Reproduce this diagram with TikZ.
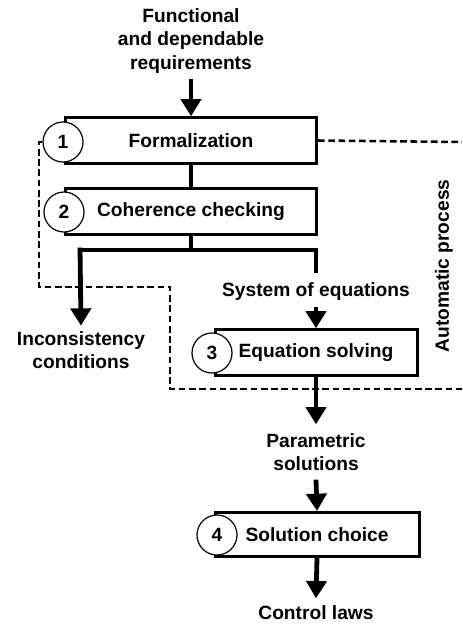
\documentclass[tikz,border=0pt]{standalone}
\usepackage{fontspec}
\setmainfont{Liberation Sans}
\usetikzlibrary{arrows.meta}
\begin{document}
\begin{tikzpicture}[x=0.75pt,y=-0.75pt,
  txt/.style={font=\fontsize{14.4}{17.5}\selectfont\bfseries, align=center, inner sep=4pt},
  boxnode/.style={draw, line width=2.25pt, fill=white, minimum height=34pt, font=\fontsize{14.4}{17.5}\selectfont\bfseries, inner sep=0pt},
  numc/.style={circle, draw, line width=0.9pt, fill=white, minimum size=30pt, inner sep=0pt, font=\fontsize{14.4}{17.5}\selectfont\bfseries},
  conn/.style={line width=3.6pt},
  arr/.style={line width=3.6pt, -{Triangle[width=15pt,length=13pt]}},
  dsh/.style={line width=1.9pt, dash pattern=on 5pt off 2.7pt}
]
\useasboundingbox (0,0) rectangle (462,626);

% text nodes
\node[txt] (req) at (191,41) {Functional\\and dependable\\requirements};
\node[txt] (sys) at (316,292) {System of equations};
\node[txt] (inc) at (81,350) {Inconsistency\\conditions};
\node[txt, inner ysep=6.5pt] (par) at (316,452) {Parametric\\solutions};
\node[txt, inner ysep=5.5pt] (ctl) at (316,613) {Control laws};
\node[txt, rotate=90] (auto) at (444,266) {Automatic process};

% coordinates
\coordinate (j) at (191,250);
\coordinate (jl) at (80,250);
\coordinate (jr) at (316,250);
\coordinate (jre) at (316,273);
\coordinate (d0) at (39,142);
\coordinate (d1) at (39,287);
\coordinate (d2) at (170,287);
\coordinate (d3) at (170,389);
\coordinate (d4) at (462,389);
\coordinate (d5) at (462,142);

% boxes
\node[boxnode, minimum width=188.25pt] (b1) at (191,140.5) {Formalization};
\node[boxnode, minimum width=188.25pt] (b2) at (191,211.5) {Coherence checking};
\node[boxnode, minimum width=151.5pt] (b3) at (316,352.5) {Equation solving};
\node[boxnode, minimum width=153pt, minimum height=33pt] (b4) at (317,534.5) {Solution choice};

% circles
\node[numc] (c1) at (63,142) {1};
\node[numc] (c2) at (64,212) {2};
\node[numc] (c3) at (212,353) {3};
\node[numc] (c4) at (217,535) {4};

% dashed boundary
\draw[dsh] (c1.west) -- (d0) -- (d1) -- (d2) -- (d3) -- (d4);
\draw[dsh] (b1.east) -- (d5);

% connectors
\draw[arr] (req.south) -- (b1.north);
\draw[conn] (b1.south) -- (b2.north);
\draw[conn] (b2.south) -- (j);
\draw[conn] ([xshift=-1.8pt]jl) -- ([xshift=1.8pt]jr);
\draw[arr] ([yshift=1.8pt]jl) -- (inc.north);
\draw[conn] ([yshift=1.8pt]jr) -- (jre);
\draw[arr] (sys.south) -- (b3.north);
\draw[arr] (b3.south) -- (par.north);
\draw[arr] (par.south) -- (b4.north);
\draw[arr] (b4.south) -- (ctl.north);
\end{tikzpicture}
\end{document}
